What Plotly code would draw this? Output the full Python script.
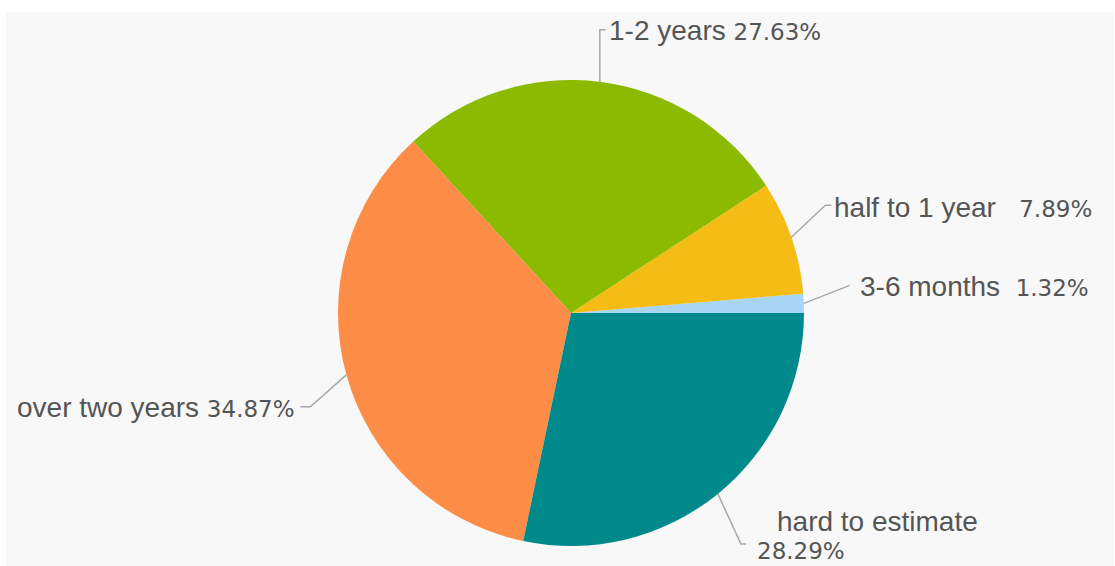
import math
import plotly.graph_objects as go

# Slice data, in drawing order (counter-clockwise from 3 o'clock)
labels = ["3-6 months", "half to 1 year", "1-2 years", "over two years", "hard to estimate"]
shares = [1.32, 7.89, 27.63, 34.87, 28.29]
colors = ["#a9d5f4", "#f4bc14", "#8bba00", "#fd8c47", "#00898a"]

W, H = 1115, 566
CX, CY, R = 571, 313, 233  # pie centre and radius in pixels

# Leader geometry per label: knee offset and end offset from the rim point (px),
# then text anchor offset from the end of the leader.
leader = {
    "3-6 months":       dict(knee=(46, -18), end=(46, -18), side="left",  gap=(8, 1), sep="\u00a0\u00a0"),
    "half to 1 year":   dict(knee=(34, -32), end=(40, -32), side="left",  gap=(1, 2), sep="\u00a0\u00a0\u00a0"),
    "1-2 years":        dict(knee=(0, -52),  end=(6, -52),  side="left",  gap=(1, 1), sep=" "),
    "over two years":   dict(knee=(-36, 32), end=(-46, 32), side="right", gap=(-3, 1), sep=" "),
    "hard to estimate": dict(knee=(23, 50),  end=(28, 50),  side="left",  gap=(9, 7), sep=None),
}

NAME_FONT = dict(family="Liberation Sans, Arial, sans-serif", size=28, color="#555555")
PCT_SIZE = 23
PCT_FAMILY = "DejaVu Sans, Verdana, sans-serif"


def to_paper(px, py):
    return px / W, 1 - py / H


total = sum(shares)
# counter-clockwise pies are laid out with the first slice just clockwise of
# `rotation`, so offset by that slice to start it at 3 o'clock
first_deg = shares[0] / total * 360

fig = go.Figure(go.Pie(
    labels=labels,
    values=shares,
    sort=False,
    direction="counterclockwise",
    rotation=90 - first_deg,
    marker=dict(colors=colors, line=dict(width=0)),
    textinfo="none",
    hoverinfo="label+percent",
    showlegend=False,
    domain=dict(x=[(CX - R) / W, (CX + R) / W], y=[1 - (CY + R) / H, 1 - (CY - R) / H]),
))

shapes = [dict(type="rect", xref="paper", yref="paper", layer="below",
               x0=6 / W, x1=1114 / W, y0=0, y1=1 - 12 / H,
               fillcolor="#f8f8f8", line=dict(width=0))]
annotations = []

cum = 0.0
for name, val in zip(labels, shares):
    mid = (cum + val / 2) / total * 2 * math.pi
    cum += val
    rx = CX + R * math.cos(mid)
    ry = CY - R * math.sin(mid)
    g = leader[name]
    kx, ky = rx + g["knee"][0], ry + g["knee"][1]
    ex, ey = rx + g["end"][0], ry + g["end"][1]
    p0, p1, p2 = to_paper(rx, ry), to_paper(kx, ky), to_paper(ex, ey)
    shapes.append(dict(type="path", xref="paper", yref="paper",
                       path=f"M {p0[0]},{p0[1]} L {p1[0]},{p1[1]} L {p2[0]},{p2[1]}",
                       line=dict(color="#a8a8a8", width=1.5)))
    pct = f"{val:.2f}%"
    pct_html = f"<span style='font-size:{PCT_SIZE}px;font-family:{PCT_FAMILY}'>{pct}</span>"
    tx, ty = ex + g["gap"][0], ey + g["gap"][1]
    if g["sep"] is None:
        # name on its own line, percentage underneath at the leader end
        ax_, ay_ = to_paper(tx + 20, ty - 29)
        annotations.append(dict(xref="paper", yref="paper", x=ax_, y=ay_, text=name,
                                showarrow=False, xanchor="left", yanchor="middle", font=NAME_FONT))
        ax_, ay_ = to_paper(tx, ty)
        annotations.append(dict(xref="paper", yref="paper", x=ax_, y=ay_, text=pct_html,
                                showarrow=False, xanchor="left", yanchor="middle", font=NAME_FONT))
    else:
        ax_, ay_ = to_paper(tx, ty)
        annotations.append(dict(xref="paper", yref="paper", x=ax_, y=ay_,
                                text=name + g["sep"] + pct_html,
                                showarrow=False, xanchor=g["side"], yanchor="middle",
                                font=NAME_FONT))

fig.update_layout(
    width=W, height=H,
    margin=dict(l=0, r=0, t=0, b=0),
    paper_bgcolor="#ffffff",
    plot_bgcolor="#ffffff",
    shapes=shapes,
    annotations=annotations,
)

fig.write_html("out.html")
